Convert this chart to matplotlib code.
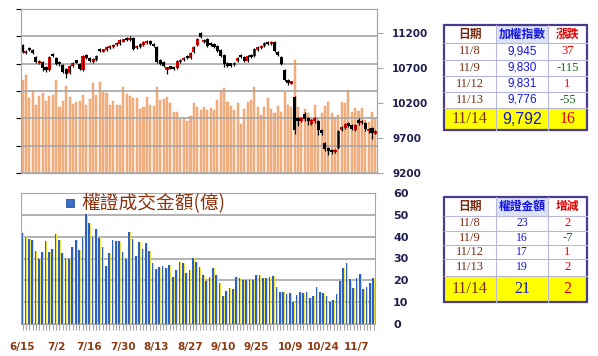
import matplotlib
matplotlib.use('Agg')
import matplotlib.pyplot as plt
from matplotlib.patches import Rectangle
import numpy as np

plt.rcParams['font.family'] = ['DejaVu Sans', 'Noto Sans CJK TC']

tick_dates = ['6/15', '7/2', '7/16', '7/30', '8/13', '8/27', '9/10', '9/25', '10/9', '10/24', '11/7']

# 加權指數 K線 (6/15 ~ 11/14)
opens = [11029, 10915, 10985, 10957, 10857, 10771, 10786, 10714, 10671, 10900,
         10843, 10786, 10743, 10686, 10629, 10729, 10800, 10757, 10671, 10886,
         10843, 10786, 10814, 10971, 10943, 10957, 10986, 11000, 11029, 11043,
         11086, 11129, 11100, 11129, 10986, 11000, 11029, 11057, 11086, 11043,
         11000, 10814, 10786, 10686, 10714, 10714, 10700, 10786, 10814, 10871,
         10843, 10929, 11029, 11200, 11071, 11114, 11057, 11043, 11014, 10957,
         10886, 10771, 10750, 10743, 10800, 10886, 10857, 10800, 10886, 10871,
         10957, 10986, 11014, 11071, 11043, 11071, 10929, 10857, 10671, 10514,
         10490, 10286, 9986, 9943, 10043, 9986, 9900, 9943, 9943, 9814,
         9629, 9557, 9529, 9500, 9557, 9814, 9843, 9914, 9886, 9814,
         9957, 9914, 9914, 9800, 9843, 9771]
closes = [10929, 10943, 10957, 10914, 10786, 10800, 10700, 10671, 10857, 10871,
          10757, 10757, 10643, 10614, 10729, 10771, 10786, 10686, 10871, 10843,
          10800, 10829, 10871, 10943, 10957, 11000, 11014, 11029, 11057, 11100,
          11100, 11100, 11129, 10971, 11014, 11043, 11071, 11086, 11043, 11014,
          10786, 10757, 10729, 10700, 10700, 10686, 10800, 10814, 10843, 10843,
          10914, 11000, 11114, 11143, 11100, 11014, 11029, 11000, 10943, 10871,
          10757, 10729, 10743, 10771, 10843, 10857, 10800, 10871, 10857, 10971,
          11000, 11014, 11057, 11043, 11071, 10943, 10886, 10757, 10529, 10500,
          10500, 9814, 9943, 9986, 9971, 9943, 9957, 9986, 9814, 9771,
          9543, 9514, 9500, 9529, 9800, 9857, 9900, 9871, 9829, 9886,
          9908, 9945, 9830, 9831, 9776, 9792]
highs = [11043, 10960, 11000, 10971, 10871, 10814, 10800, 10729, 10871, 10914,
         10857, 10800, 10757, 10700, 10743, 10786, 10814, 10771, 10886, 10900,
         10857, 10843, 10886, 10986, 10971, 11014, 11029, 11043, 11071, 11114,
         11114, 11143, 11157, 11143, 11029, 11057, 11086, 11100, 11100, 11057,
         11014, 10829, 10800, 10714, 10729, 10729, 10814, 10829, 10857, 10886,
         10929, 11014, 11129, 11214, 11114, 11129, 11071, 11057, 11029, 10971,
         10900, 10786, 10771, 10786, 10857, 10900, 10871, 10886, 10900, 10986,
         11014, 11029, 11071, 11086, 11086, 11086, 10943, 10871, 10686, 10543,
         10514, 10300, 10000, 10000, 10071, 10000, 9971, 10000, 9957, 9829,
         9643, 9571, 9543, 9543, 9814, 9871, 9914, 9929, 9900, 9900,
         9986, 9960, 9929, 9845, 9857, 9814]
lows = [10914, 10900, 10943, 10900, 10771, 10757, 10657, 10643, 10657, 10857,
        10743, 10729, 10629, 10557, 10614, 10714, 10771, 10671, 10657, 10829,
        10786, 10771, 10800, 10929, 10929, 10943, 10971, 10986, 11014, 11029,
        11071, 11086, 11086, 10957, 10971, 10986, 11014, 11043, 11029, 11000,
        10771, 10743, 10714, 10614, 10686, 10671, 10686, 10771, 10800, 10829,
        10829, 10914, 11014, 11129, 11057, 11000, 11014, 10986, 10929, 10857,
        10714, 10714, 10714, 10729, 10786, 10843, 10786, 10786, 10843, 10857,
        10943, 10971, 11000, 11029, 11029, 10929, 10871, 10743, 10514, 10457,
        10471, 9757, 9871, 9929, 9943, 9886, 9886, 9914, 9743, 9743,
        9514, 9457, 9471, 9486, 9543, 9800, 9829, 9857, 9814, 9800,
        9886, 9900, 9800, 9771, 9686, 9757]

# 大盤成交值(億)
turnover = [1023, 1078, 825, 902, 748, 847, 880, 792, 847, 858,
            1023, 726, 792, 957, 836, 759, 781, 792, 858, 748,
            814, 990, 858, 1001, 891, 880, 748, 792, 748, 748,
            946, 869, 847, 825, 825, 704, 726, 836, 748, 737,
            946, 803, 814, 836, 770, 671, 671, 594, 594, 572,
            627, 770, 726, 693, 726, 693, 715, 693, 803, 913,
            935, 781, 737, 693, 770, 539, 704, 781, 803, 946,
            726, 638, 726, 825, 704, 660, 737, 671, 891, 748,
            726, 1243, 726, 616, 704, 660, 594, 748, 605, 660,
            737, 781, 660, 616, 638, 781, 770, 913, 671, 715,
            682, 715, 583, 561, 671, 594]

# 權證成交金額(億)
warrant = [41.5, 39.2, 38.8, 38.5, 33.4, 29.8, 32.8, 38, 33, 34.4,
           41, 38.5, 32.4, 29.8, 29.8, 35.1, 38.3, 34, 40, 50.2,
           46.1, 40, 43.5, 39.2, 35.4, 26.6, 32.4, 38.5, 38, 38,
           32.8, 29.8, 42.3, 38.9, 31.1, 37.4, 34.4, 36.9, 33.4, 27.8,
           25.2, 26, 26.7, 25.5, 26.9, 21.7, 24.7, 28.2, 27.8, 23.2,
           24.7, 30.1, 28.5, 26, 22.4, 19.8, 21.4, 25.5, 22.4, 18.6,
           13, 15.1, 16.3, 16, 21.4, 21.2, 20.2, 20.2, 20.2, 20.2,
           22.4, 22.4, 20.9, 20.9, 21.7, 22.1, 17.1, 14.8, 14.5, 13.7,
           14, 10.2, 13.3, 14.8, 14, 14.8, 11.8, 13, 16.8, 14.5,
           14, 13, 9.9, 11, 13.6, 19.8, 25.5, 27.8, 20.6, 16.6,
           21, 23, 16, 17, 19, 21]

tbl_dates = ['11/8', '11/9', '11/12', '11/13', '11/14']
tbl_index = ['9,945', '9,830', '9,831', '9,776', '9,792']
tbl_index_chg = ['37', '-115', '1', '-55', '16']
tbl_warrant = ['23', '16', '17', '19', '21']
tbl_warrant_chg = ['2', '-7', '1', '2', '2']

W, H = 598, 356
fig = plt.figure(figsize=(W / 100, H / 100), dpi=100)


def px_axes(l, t, r, b):
    return fig.add_axes([l / W, 1 - b / H, (r - l) / W, (b - t) / H])


GRID = '#A6A6A6'
x = np.arange(len(closes))

# ---- top: index candles over turnover bars
ax_v = px_axes(21, 9, 377, 173)
ax_v.bar(x, turnover, width=0.62, color='#F4B183', edgecolor='#EC9658', linewidth=0.3)
ax_v.set_ylim(0, 1800)
ax_v.set_yticks(np.arange(0, 1801, 300))
ax_v.set_xlim(-0.45, 105.5)
ax_v.yaxis.grid(True, color=GRID, lw=1.2)
ax_v.set_axisbelow(False)
ax_v.tick_params(left=False, labelleft=False, bottom=False, labelbottom=False)
for s in ax_v.spines.values():
    s.set_color(GRID)

ax_p = ax_v.twinx()
o = np.array(opens)
c = np.array(closes)
mid = (o + c) / 2
body = np.maximum(np.abs(c - o), 36)
cols = np.where(c >= o, '#FF0000', '#000000')
ax_p.vlines(x, lows, highs, color='black', lw=0.9)
ax_p.bar(x, body, bottom=mid - body / 2, width=0.92, color=cols)
ax_p.set_ylim(9200, 11540)
ax_p.set_yticks(range(9200, 11201, 500))
ax_p.tick_params(axis='y', colors=GRID, labelcolor='#1F1F4F', length=4, labelsize=7.5, pad=7)
for lab in ax_p.get_yticklabels():
    lab.set_fontweight('bold')
for s in ax_p.spines.values():
    s.set_color(GRID)
ax_p.set_xlim(-0.45, 105.5)

# ---- bottom: warrant turnover
ax_w = px_axes(21, 193, 375, 324)
ax_w.bar(x + 0.15, warrant, width=0.6, color='#F2E64A')
ax_w.bar(x - 0.1, warrant, width=0.5, color='#2A5FCC')
ax_w.set_ylim(0, 60)
ax_w.set_xlim(-0.45, 105.4)
ax_w.set_yticks(range(0, 61, 10))
ax_w.yaxis.tick_right()
ax_w.set_axisbelow(True)
ax_w.yaxis.grid(True, color=GRID, lw=1.2)
ax_w.tick_params(axis='y', length=0, labelcolor='#1F1F4F', labelsize=8, pad=13)
for lab in ax_w.get_yticklabels():
    lab.set_fontweight('bold')
ax_w.set_xticks(range(0, 101, 10))
ax_w.set_xticklabels(tick_dates)
ax_w.set_xticks(x, minor=True)
ax_w.tick_params(axis='x', which='both', colors=GRID, length=4, width=0.8)
ax_w.tick_params(axis='x', labelcolor='#8B3A12', labelsize=7.5, pad=9)
for lab in ax_w.get_xticklabels():
    lab.set_fontweight('bold')
for s in ax_w.spines.values():
    s.set_color(GRID)

# ---- overlay: legend + tables
ov = fig.add_axes([0, 0, 1, 1])
ov.set_xlim(0, W)
ov.set_ylim(H, 0)
ov.axis('off')
ov.patch.set_alpha(0)

ov.add_patch(Rectangle((66, 199), 8, 8, facecolor='#3A6FC8', edgecolor='#24509E', lw=0.6))
ov.text(81, 203.5, '權證成交金額(億)', fontsize=13.5, color='#8B3510',
        family=['Noto Sans CJK TC', 'DejaVu Sans'], va='center', ha='left')

BROWN = '#7B2A10'
BLUE = '#1414E0'
RED = '#E00000'
GREEN = '#1E6B1E'


def draw_table(cx, ry, heads, vals, chgs, val_font):
    left, right = cx[0], cx[-1]
    top, bot = ry[0], ry[-1]
    # header 2nd column tint, last row yellow
    ov.add_patch(Rectangle((cx[1], ry[0]), cx[2] - cx[1], ry[1] - ry[0], facecolor='#DCE3F6', lw=0))
    ov.add_patch(Rectangle((left, ry[-2]), right - left, bot - ry[-2], facecolor='#FFFF00', lw=0))
    for yy in ry[1:-1]:
        ov.plot([left, right], [yy, yy], color='#B8B8D6', lw=0.8)
    for xx in cx[1:-1]:
        ov.plot([xx, xx], [top, bot], color='#B8B8D6', lw=0.8)
    ov.add_patch(Rectangle((left, top), right - left, bot - top, fill=False,
                           edgecolor='#4A3C8C', lw=1.6))
    hcols = [BROWN, BLUE, RED]
    for j, h in enumerate(heads):
        ov.text((cx[j] + cx[j + 1]) / 2, (ry[0] + ry[1]) / 2, h, ha='center', va='center',
                fontsize=8.5, color=hcols[j], fontweight='bold',
                family=['Noto Sans CJK TC', 'DejaVu Sans'])
    n = len(tbl_dates)
    for i in range(n):
        yc = (ry[i + 1] + ry[i + 2]) / 2
        last = i == n - 1
        fs = 11.5 if last else 9
        ov.text((cx[0] + cx[1]) / 2, yc, tbl_dates[i], ha='center', va='center',
                fontsize=fs, color=BROWN, family='Liberation Serif')
        ov.text((cx[1] + cx[2]) / 2, yc, vals[i], ha='center', va='center',
                fontsize=11.5 if last else 8.5, color=BLUE, family=val_font)
        ccol = GREEN if chgs[i].startswith('-') else RED
        ov.text((cx[2] + cx[3]) / 2, yc, chgs[i], ha='center', va='center',
                fontsize=fs, color=ccol, family='Liberation Serif')


cols_x = [444, 496, 548, 587]
draw_table(cols_x, [25, 43, 60, 76, 92, 108, 130],
           ['日期', '加權指數', '漲跌'], tbl_index, tbl_index_chg, 'Liberation Sans')
draw_table(cols_x, [197, 216, 231, 245, 259, 276, 302],
           ['日期', '權證金額', '增減'], tbl_warrant, tbl_warrant_chg, 'Liberation Serif')

fig.savefig('out.png', dpi=100)
